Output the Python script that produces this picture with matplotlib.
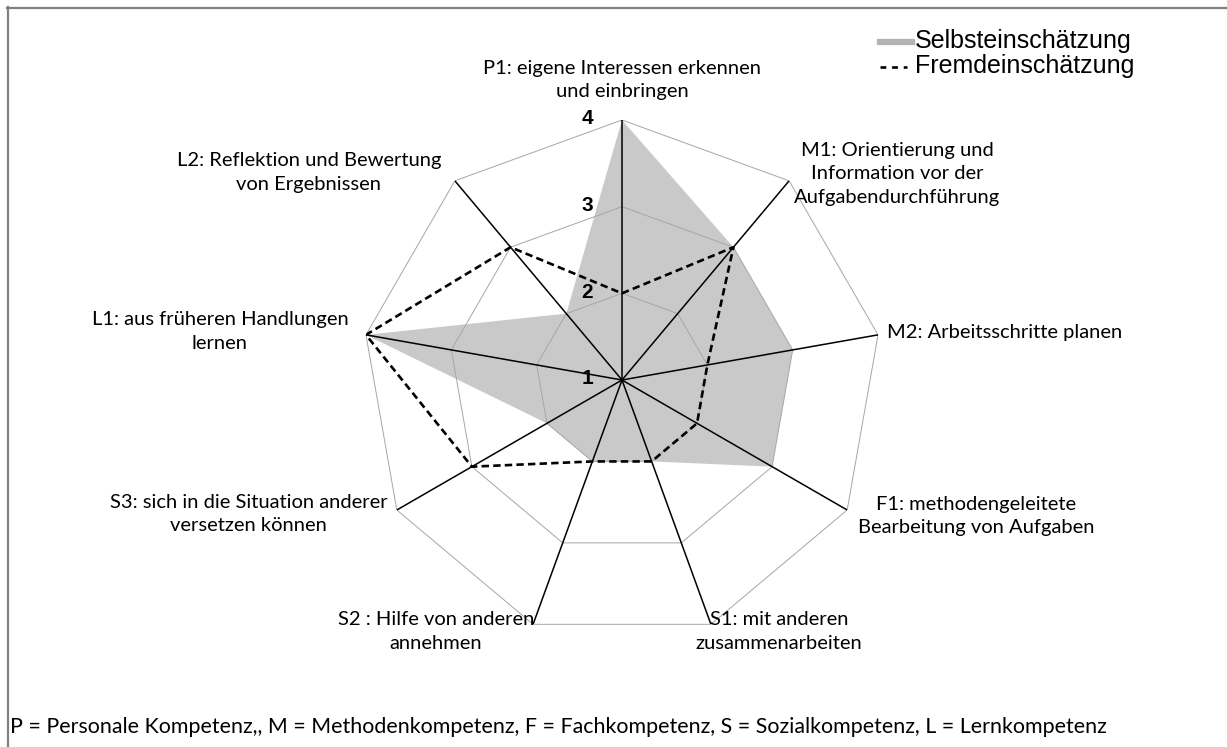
import matplotlib.pyplot as plt
import numpy as np
from matplotlib.lines import Line2D

# Kompetenzen (im Uhrzeigersinn ab oben)
kategorien = [
    'P1: eigene Interessen erkennen\nund einbringen',
    'M1: Orientierung und\nInformation vor der\nAufgabendurchführung',
    'M2: Arbeitsschritte planen',
    'F1: methodengeleitete\nBearbeitung von Aufgaben',
    'S1: mit anderen\nzusammenarbeiten',
    'S2 : Hilfe von anderen\nannehmen',
    'S3: sich in die Situation anderer\nversetzen können',
    'L1: aus früheren Handlungen\nlernen',
    'L2: Reflektion und Bewertung\nvon Ergebnissen',
]
selbst = [4, 3, 3, 3, 2, 2, 2, 4, 2]
fremd = [2, 3, 2, 2, 2, 2, 3, 4, 3]
skala = [1, 2, 3, 4]
serien = ['Selbsteinschätzung', 'Fremdeinschätzung']
fussnote = ('P = Personale Kompetenz,, M = Methodenkompetenz, F = Fachkompetenz, '
            'S = Sozialkompetenz, L = Lernkompetenz')

# Layout der Beschriftungen (Pixel-Versatz vom Achsenende)
label_offsets = [(0, 40, 'center'), (108, 7, 'center'), (9, 2, 'left'),
                 (129, -6, 'center'), (68, -7, 'center'), (-97, -7, 'center'),
                 (-148, -4, 'center'), (-146, 3, 'center'), (-146, 8, 'center')]

W, H = 1227, 747
fig = plt.figure(figsize=(W / 100, H / 100), dpi=100)
fig.patch.set_facecolor('white')

cx, cy, R = 622, 380, 260
ax = fig.add_axes([(cx - R) / W, (H - cy - R) / H, 2 * R / W, 2 * R / H], projection='polar')
ax.set_theta_zero_location('N')
ax.set_theta_direction(-1)
ax.set_ylim(1, 4)
ax.set_xticks([])
ax.set_yticks([])
ax.grid(False)
ax.spines['polar'].set_visible(False)
ax.patch.set_alpha(0)

n = len(kategorien)
theta = np.arange(n) * 2 * np.pi / n
theta_c = np.append(theta, theta[0])

dash = (0, (2.8, 1.6))

# Selbsteinschätzung (Fläche)
ax.fill(theta_c, selbst + selbst[:1], color='#c9c9c9', lw=0, zorder=1)

# Gitternetz
for r in skala[1:]:
    ax.plot(theta_c, [r] * (n + 1), color='#a6a6a6', lw=0.7, zorder=2)
for t in theta:
    ax.plot([t, t], [1, 4], color='black', lw=1.1, zorder=3)

# Fremdeinschätzung
ax.plot(theta_c, fremd + fremd[:1], color='black', lw=1.9, linestyle=dash, zorder=4)

# Skalenbeschriftung
for r in skala:
    ax.annotate(str(r), (0, r), xytext=(-29, 1), textcoords='offset pixels',
                ha='right', va='center', fontsize=15, fontweight='bold',
                family='Liberation Sans')

for t, lab, (dx, dy, ha) in zip(theta, kategorien, label_offsets):
    ax.annotate(lab, (t, 4), xytext=(dx, dy), textcoords='offset pixels',
                ha=ha, va='center', multialignment='center', fontsize=14.5,
                family='Lato', linespacing=1.48, annotation_clip=False)

fig.text(10 / W, 1 - 727 / H, fussnote, ha='left', va='center', fontsize=15.4, family='Lato')

# Legende
fig.add_artist(Line2D([880 / W, 912 / W], [1 - 42 / H] * 2, color='#b3b3b3', lw=4.5))
fig.add_artist(Line2D([880 / W, 907 / W], [1 - 67 / H] * 2, color='black', lw=1.9,
                      linestyle=(0, (2.2, 2.2))))
for i, s in enumerate(serien):
    fig.text(915 / W, 1 - (41 + 25 * i) / H, s, ha='left', va='center', fontsize=18,
             family='Liberation Sans')

# Rahmen
fig.add_artist(Line2D([7.5 / W, 7.5 / W], [0, 1 - 7 / H], color='#808080', lw=1.6))
fig.add_artist(Line2D([7 / W, 1], [1 - 8 / H, 1 - 8 / H], color='#808080', lw=1.6))

fig.savefig('out.png', dpi=100)
